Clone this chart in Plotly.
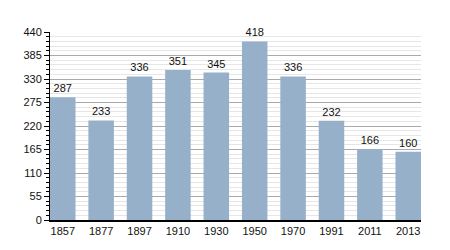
import plotly.graph_objects as go

years = ["1857", "1877", "1897", "1910", "1930", "1950", "1970", "1991", "2011", "2013"]
population = [287, 233, 336, 351, 345, 418, 336, 232, 166, 160]
y_ticks = [0, 55, 110, 165, 220, 275, 330, 385, 440]

bar_w = 0.665

fig = go.Figure(go.Bar(
    x=years, y=population,
    text=[str(v) for v in population],
    textposition="outside",
    textfont=dict(size=11, color="#111111", family="Liberation Sans, Arial, sans-serif"),
    marker=dict(color="#97b0ca", line=dict(width=0)),
    width=bar_w,
    cliponaxis=False,
))

fig.update_layout(
    width=450, height=250,
    margin=dict(l=50, r=29, t=32, b=30),
    paper_bgcolor="white", plot_bgcolor="white",
    showlegend=False,
    font=dict(family="Liberation Sans, Arial, sans-serif", size=11, color="#111111"),
)
fig.update_xaxes(
    type="category", showline=True, linecolor="black", linewidth=1.5,
    ticks="", showgrid=False, tickfont=dict(size=11),
    range=[-bar_w / 2, len(years) - 1 + bar_w / 2],
)
fig.update_yaxes(
    range=[0, 440], tickvals=y_ticks, showline=True, linecolor="black", linewidth=1,
    ticks="outside", ticklen=5, tickcolor="black",
    showgrid=True, gridcolor="#aaaaaa", gridwidth=1,
    minor=dict(dtick=11, tick0=0, showgrid=True, gridcolor="#e6e6e6", gridwidth=1,
               ticks="outside", ticklen=3, tickcolor="black"),
    zeroline=False, tickfont=dict(size=11),
)

fig.write_html("out.html")
